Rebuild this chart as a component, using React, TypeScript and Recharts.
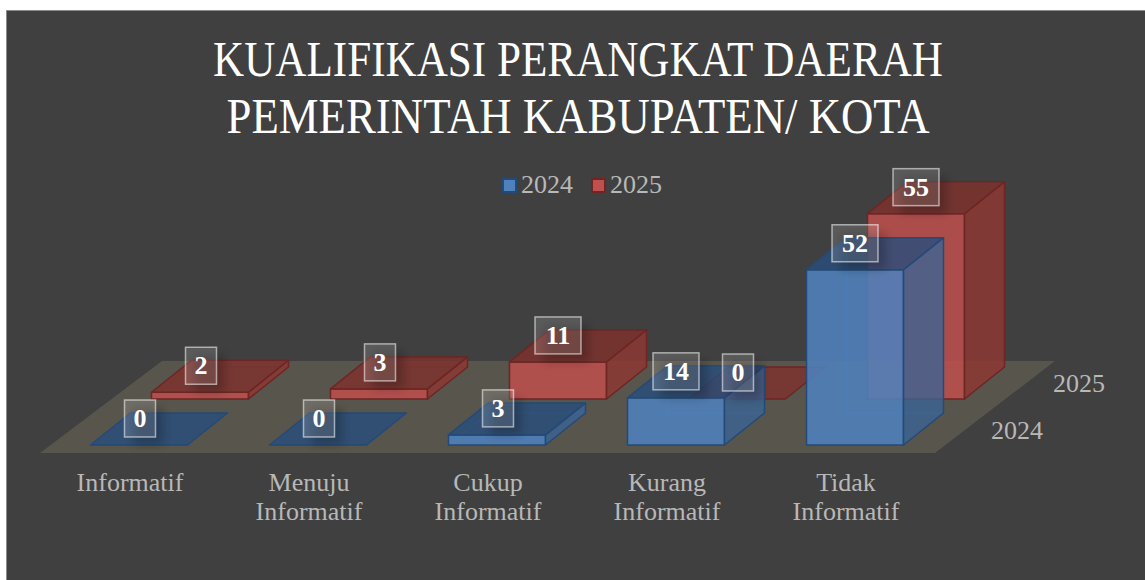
import { Bar, ComposedChart, Legend, LabelList, Line, XAxis, YAxis } from 'recharts';

const categories = ['Informatif', 'Menuju Informatif', 'Cukup Informatif', 'Kurang Informatif', 'Tidak Informatif'];
const values2024 = [0, 0, 3, 14, 52];
const values2025 = [2, 3, 11, 0, 55];
const seriesNames = ['2024', '2025'];
const titleLines = ['KUALIFIKASI PERANGKAT DAERAH', 'PEMERINTAH KABUPATEN/ KOTA'];
const titleWidths = [730, 703];

const data = categories.map((name, i) => ({ name, y2024: values2024[i], y2025: values2025[i] }));

const FONT = '"Liberation Serif", serif';
const TEXT_GREY = '#b8b8b8';
const DEPTH_X = 40;
const DEPTH_Y = 32;
// the 2025 row sits further back on the floor
const ROW_X = 61;
const ROW_Y = 46;

const palette: any = {
  y2024: {
    front: 'rgba(79,129,189,0.88)',
    top: 'rgba(40,78,125,0.8)',
    side: 'rgba(58,100,150,0.78)',
    stroke: '#234a78',
    inner: 'rgba(60,110,170,0.55)',
    swatch: '#4f81bd',
  },
  y2025: {
    front: 'rgba(192,80,77,0.85)',
    top: 'rgba(125,50,46,0.85)',
    side: 'rgba(140,56,52,0.85)',
    stroke: '#6e2523',
    inner: 'rgba(120,45,42,0.4)',
    swatch: '#c0504d',
  },
};

function Bar3D(props: any) {
  const { x, y, width, height, colors } = props;
  const r = x + width;
  const b = y + height;
  const top = `${x},${y} ${r},${y} ${r + DEPTH_X},${y - DEPTH_Y} ${x + DEPTH_X},${y - DEPTH_Y}`;
  const side = `${r},${y} ${r + DEPTH_X},${y - DEPTH_Y} ${r + DEPTH_X},${b - DEPTH_Y} ${r},${b}`;
  return (
    <g>
      {height > 0 && (
        <path
          d={`M${x},${b} L${x + DEPTH_X},${b - DEPTH_Y} L${r + DEPTH_X},${b - DEPTH_Y} M${x + DEPTH_X},${b - DEPTH_Y} L${x + DEPTH_X},${y - DEPTH_Y}`}
          stroke={colors.inner}
          strokeWidth={1.5}
          fill="none"
        />
      )}
      {height > 0 && <rect x={x} y={y} width={width} height={height} fill={colors.front} stroke={colors.stroke} strokeWidth={1.5} />}
      {height > 0 && <polygon points={side} fill={colors.side} stroke={colors.stroke} strokeWidth={1.5} strokeLinejoin="round" />}
      <polygon points={top} fill={colors.top} stroke={colors.stroke} strokeWidth={1.5} strokeLinejoin="round" />
    </g>
  );
}

function ValueTag(props: any) {
  const { y, value } = props;
  const single = String(value).length === 1;
  const w = single ? 31 : 46;
  const x = single ? props.x + 1 : props.x;
  return (
    <g>
      <rect x={x - w / 2 + 8} y={y - 37} width={w} height={37} fill="rgba(0,0,0,0.22)" filter="url(#tagShadow)" />
      <rect x={x - w / 2} y={y - 45} width={w} height={37} fill="rgba(255,255,255,0.14)" stroke="rgba(255,255,255,0.55)" strokeWidth={1.5} />
      <text x={x} y={y - 18} textAnchor="middle" fontFamily={FONT} fontWeight="bold" fontSize={26} fill="#fff">
        {value}
      </text>
    </g>
  );
}

function CategoryTick(props: any) {
  const { x, y, payload } = props;
  const words = String(payload.value).split(' ');
  return (
    <text x={x} y={y} textAnchor="middle" fontFamily={FONT} fontSize={26} fill={TEXT_GREY}>
      {words.map((w, i) => (
        <tspan key={w} x={x - 9} dy={i === 0 ? 0 : 28.5}>
          {w}
        </tspan>
      ))}
    </text>
  );
}

function TopLegend() {
  return (
    <div style={{ display: 'flex', fontFamily: FONT, fontSize: 26, color: TEXT_GREY, lineHeight: '30px' }}>
      {seriesNames.map((name) => (
        <div key={name} style={{ display: 'flex', alignItems: 'center', marginRight: 18 }}>
          <span
            style={{
              flexShrink: 0,
              width: 11,
              height: 11,
              marginRight: 4,
              background: palette['y' + name].swatch,
              border: `2px solid ${palette['y' + name].stroke}`,
            }}
          />
          {name}
        </div>
      ))}
    </div>
  );
}

export default function App() {
  return (
    <div style={{ position: 'absolute', left: 0, top: 0, width: 1145, height: 580, background: '#fff', overflow: 'hidden' }}>
      <div
        style={{
          position: 'absolute',
          left: 6,
          top: 10,
          width: 1139,
          height: 570,
          background: '#404040',
          borderLeft: '1px solid #8c8c8c',
          borderTop: '1px solid #8c8c8c',
          boxSizing: 'border-box',
        }}
      />
      <ComposedChart
        width={1145}
        height={580}
        data={data}
        margin={{ top: 108, right: 200.5, bottom: 75, left: 49.5 }}
        style={{ position: 'absolute', left: 0, top: 0 }}
      >
        <defs>
          <filter id="tagShadow" x="-50%" y="-50%" width="200%" height="200%">
            <feGaussianBlur stdDeviation="5" />
          </filter>
        </defs>
        <polygon points="40,453 935,453 1055,361 162,361" fill="#58554c" />
        {titleLines.map((line, i) => (
          <text
            key={line}
            x={578}
            y={76 + i * 57}
            textAnchor="middle"
            fontFamily={FONT}
            fontSize={50}
            fill="#fff"
            textLength={titleWidths[i]}
            lengthAdjust="spacingAndGlyphs"
          >
            {line}
          </text>
        ))}
        <text x={1079} y={392} textAnchor="middle" fontFamily={FONT} fontSize={26} fill={TEXT_GREY}>
          {seriesNames[1]}
        </text>
        <text x={1017} y={439} textAnchor="middle" fontFamily={FONT} fontSize={26} fill={TEXT_GREY}>
          {seriesNames[0]}
        </text>
        <XAxis
          xAxisId="front"
          dataKey="name"
          height={30}
          axisLine={false}
          tickLine={false}
          tick={<CategoryTick />}
          tickMargin={40}
          interval={0}
        />
        <XAxis xAxisId="back" dataKey="name" hide height={0} padding={{ left: ROW_X, right: -ROW_X }} />
        <YAxis yAxisId="front" hide domain={[0, 100]} />
        <YAxis yAxisId="back" hide domain={[0, 100]} padding={{ top: -ROW_Y, bottom: ROW_Y }} />
        <Bar
          xAxisId="back"
          yAxisId="back"
          dataKey="y2025"
          barSize={97}
          isAnimationActive={false}
          shape={(p: any) => <Bar3D {...p} colors={palette.y2025} />}
        />
        <Bar
          xAxisId="front"
          yAxisId="front"
          dataKey="y2024"
          barSize={97}
          isAnimationActive={false}
          shape={(p: any) => <Bar3D {...p} colors={palette.y2024} />}
        />
        <Line xAxisId="front" yAxisId="front" dataKey="y2024" stroke="none" dot={false} legendType="none" isAnimationActive={false}>
          <LabelList dataKey="y2024" content={<ValueTag />} />
        </Line>
        <Line xAxisId="back" yAxisId="back" dataKey="y2025" stroke="none" dot={false} legendType="none" isAnimationActive={false}>
          <LabelList dataKey="y2025" content={<ValueTag />} />
        </Line>
        <Legend content={<TopLegend />} wrapperStyle={{ position: 'absolute', left: 502, top: 170, width: 200, bottom: 'auto' }} />
      </ComposedChart>
    </div>
  );
}
